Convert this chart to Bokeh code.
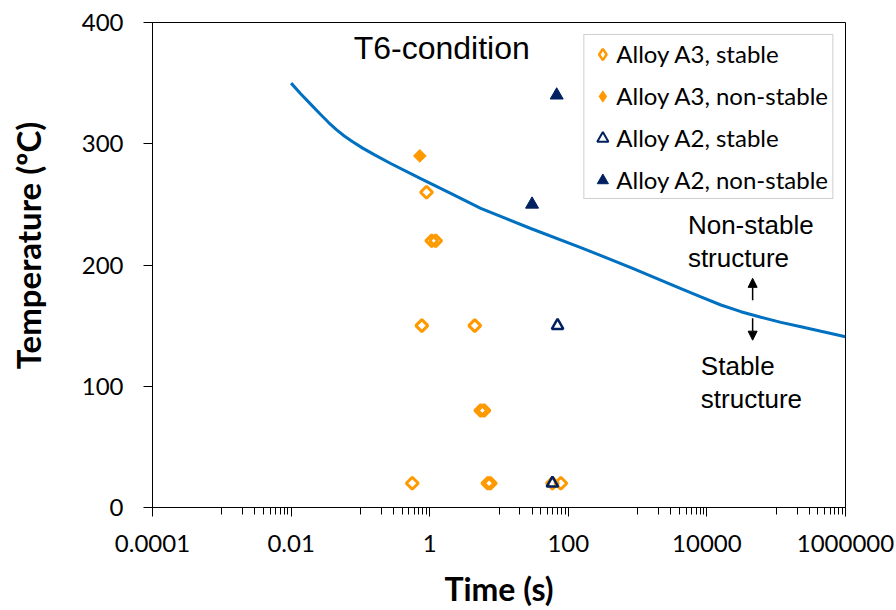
import math
from bokeh.plotting import figure
from bokeh.models import (Range1d, FixedTicker, CustomJSTickFormatter, Legend, LegendItem,
                          Label, Arrow, NormalHead)
from bokeh.embed import file_html
from bokeh.resources import INLINE

# ---------------- data ----------------
x_ticks = [1e-4, 1e-2, 1, 1e2, 1e4, 1e6]
x_tick_labels = ["0.0001", "0.01", "1", "100", "10000", "1000000"]
y_ticks = [0, 100, 200, 300, 400]

# stability boundary curve
curve_time = [0.01, 0.01372, 0.01912, 0.02667, 0.03478, 0.04539, 0.05923, 0.07727, 0.1078,
              0.1606, 0.2734, 0.7413, 2.010, 5.452, 28.74, 151.5, 798.7, 4212, 8191, 15930,
              30970, 60240, 117100, 227800, 442900, 1000000]
curve_temp = [350, 341.3, 332.7, 324.1, 317.5, 311.5, 306.2, 301.6, 296.4,
              290.8, 283.7, 271.3, 259.0, 246.7, 230.1, 214.4, 197.9, 180.6, 173.7, 167.0,
              161.5, 156.9, 152.7, 149.0, 145.3, 140.8]

a3_stable_time = [0.90, 1.07, 1.22, 0.77, 4.47, 5.45, 6.08, 0.56, 6.9, 7.5, 59, 78]
a3_stable_temp = [260, 220, 220, 150, 150, 80, 80, 20, 20, 20, 20, 20]

a3_nonstable_time = [0.72]
a3_nonstable_temp = [290]

a2_stable_time = [70, 59]
a2_stable_temp = [150, 20]

a2_nonstable_time = [30, 68]
a2_nonstable_temp = [250, 340]

legend_labels = ["Alloy A3, stable", "Alloy A3, non-stable", "Alloy A2, stable", "Alloy A2, non-stable"]

# annotation positions (data coordinates, text baseline)
title_text = "T6-condition"
title_pos = (1.49, 378.7)
upper_text = ["Non-stable", "structure"]
upper_pos = [(5317, 232.8), (5317, 205.5)]
lower_text = ["Stable", "structure"]
lower_pos = [(8185, 116.3), (8185, 89.1)]
arrow_x = 45700
arrow_up = (171, 189)
arrow_down = (156, 138)
ytitle_text = "Temperature (ºC)"
ytitle_shift = "\u00a0" * 5   # shifts the title up along the axis, as in the original

ORANGE = "#FF9900"
NAVY = "#002060"
BLUE = "#0070C0"
TICK_FONT = "Lato"
ANNOT_FONT = "Liberation Sans"
NAN = float("nan")

p = figure(width=896, height=610, x_axis_type="log",
           x_range=Range1d(1e-4, 1e6), y_range=Range1d(0, 400),
           output_backend="svg", toolbar_location=None,
           min_border_left=152, min_border_right=51, min_border_top=22, min_border_bottom=103)
p.xgrid.visible = False
p.ygrid.visible = False
p.outline_line_color = "black"
p.outline_line_width = 1
p.outline_line_alpha = 1
p.background_fill_color = "white"
p.border_fill_color = "white"

minor = [k * 10.0 ** n for n in (-3, -1, 1, 3, 5) for k in range(1, 10)]
p.xaxis.ticker = FixedTicker(ticks=x_ticks, minor_ticks=minor)
p.xaxis.formatter = CustomJSTickFormatter(args=dict(vals=x_ticks, labels=x_tick_labels), code="""
let best = 0, bd = Infinity;
for (let i = 0; i < vals.length; i++) {
  const d = Math.abs(Math.log10(vals[i]) - Math.log10(tick));
  if (d < bd) { bd = d; best = i; }
}
return labels[best];
""")
p.yaxis.ticker = FixedTicker(ticks=y_ticks)

for ax in (p.xaxis[0], p.yaxis[0]):
    ax.axis_line_color = "black"
    ax.axis_line_width = 1
    ax.major_tick_line_color = "black"
    ax.minor_tick_line_color = "black"
    ax.major_tick_in = 0
    ax.major_tick_out = 9
    ax.minor_tick_in = 0
    ax.major_label_text_font = TICK_FONT
    ax.major_label_text_font_size = "24px"
    ax.major_label_text_color = "black"
    ax.axis_label_text_font = TICK_FONT
    ax.axis_label_text_font_style = "bold"
    ax.axis_label_text_color = "black"
p.xaxis.minor_tick_out = 7
p.yaxis.minor_tick_out = 0
p.xaxis.major_label_standoff = 18
p.yaxis.major_label_standoff = 20

p.xaxis.axis_label = "Time (s)"
p.xaxis.axis_label_text_font_size = "32px"
p.xaxis.axis_label_standoff = 14

p.yaxis.axis_label = ytitle_shift + ytitle_text
p.yaxis.axis_label_text_font_size = "33px"
p.yaxis.axis_label_standoff = 31

# curve
p.line(curve_time, curve_temp, line_color=BLUE, line_width=3)

# data points
p.scatter(a3_stable_time, a3_stable_temp, marker="square", angle=math.pi / 4, size=8.5,
          line_color=ORANGE, line_width=3, fill_color=None)
p.scatter(a3_nonstable_time, a3_nonstable_temp, marker="square", angle=math.pi / 4, size=9,
          line_color=ORANGE, line_width=1, fill_color=ORANGE)
p.scatter(a2_stable_time, a2_stable_temp, marker="triangle", size=11.5,
          line_color=NAVY, line_width=2.5, fill_color=None)
p.scatter(a2_nonstable_time, a2_nonstable_temp, marker="triangle", size=13,
          line_color=NAVY, line_width=1, fill_color=NAVY)

# legend-only glyphs (a single NaN point, never drawn in the plot)
lg = [
    p.scatter([NAN], [NAN], marker="diamond", line_color=ORANGE, line_width=2.5, fill_color=None),
    p.scatter([NAN], [NAN], marker="diamond", line_color=ORANGE, line_width=1, fill_color=ORANGE),
    p.scatter([NAN], [NAN], marker="triangle", line_color=NAVY, line_width=2, fill_color=None),
    p.scatter([NAN], [NAN], marker="triangle", line_color=NAVY, line_width=1, fill_color=NAVY),
]
legend = Legend(items=[LegendItem(label=l, renderers=[r], index=0) for l, r in zip(legend_labels, lg)],
                location="top_right", margin=12, padding=4, spacing=13,
                glyph_width=28, glyph_height=28, label_standoff=0,
                label_text_font=TICK_FONT, label_text_font_size="24px", label_text_color="black",
                border_line_color="#A0A0A0", border_line_width=1, background_fill_color="white",
                background_fill_alpha=1)
p.add_layout(legend)

# annotations
p.add_layout(Label(x=title_pos[0], y=title_pos[1], text=title_text, text_font=ANNOT_FONT,
                   text_font_size="32px", text_align="center", text_baseline="alphabetic",
                   text_color="black"))
for t, (x, y) in zip(upper_text + lower_text, upper_pos + lower_pos):
    p.add_layout(Label(x=x, y=y, text=t, text_font=ANNOT_FONT, text_font_size="26px",
                       text_align="left", text_baseline="alphabetic", text_color="black"))
p.add_layout(Arrow(x_start=arrow_x, y_start=arrow_up[0], x_end=arrow_x, y_end=arrow_up[1],
                   line_width=1.5, line_color="black",
                   end=NormalHead(size=9, fill_color="black", line_color="black")))
p.add_layout(Arrow(x_start=arrow_x, y_start=arrow_down[0], x_end=arrow_x, y_end=arrow_down[1],
                   line_width=1.5, line_color="black",
                   end=NormalHead(size=9, fill_color="black", line_color="black")))

open("out.html", "w").write(file_html(p, INLINE))
